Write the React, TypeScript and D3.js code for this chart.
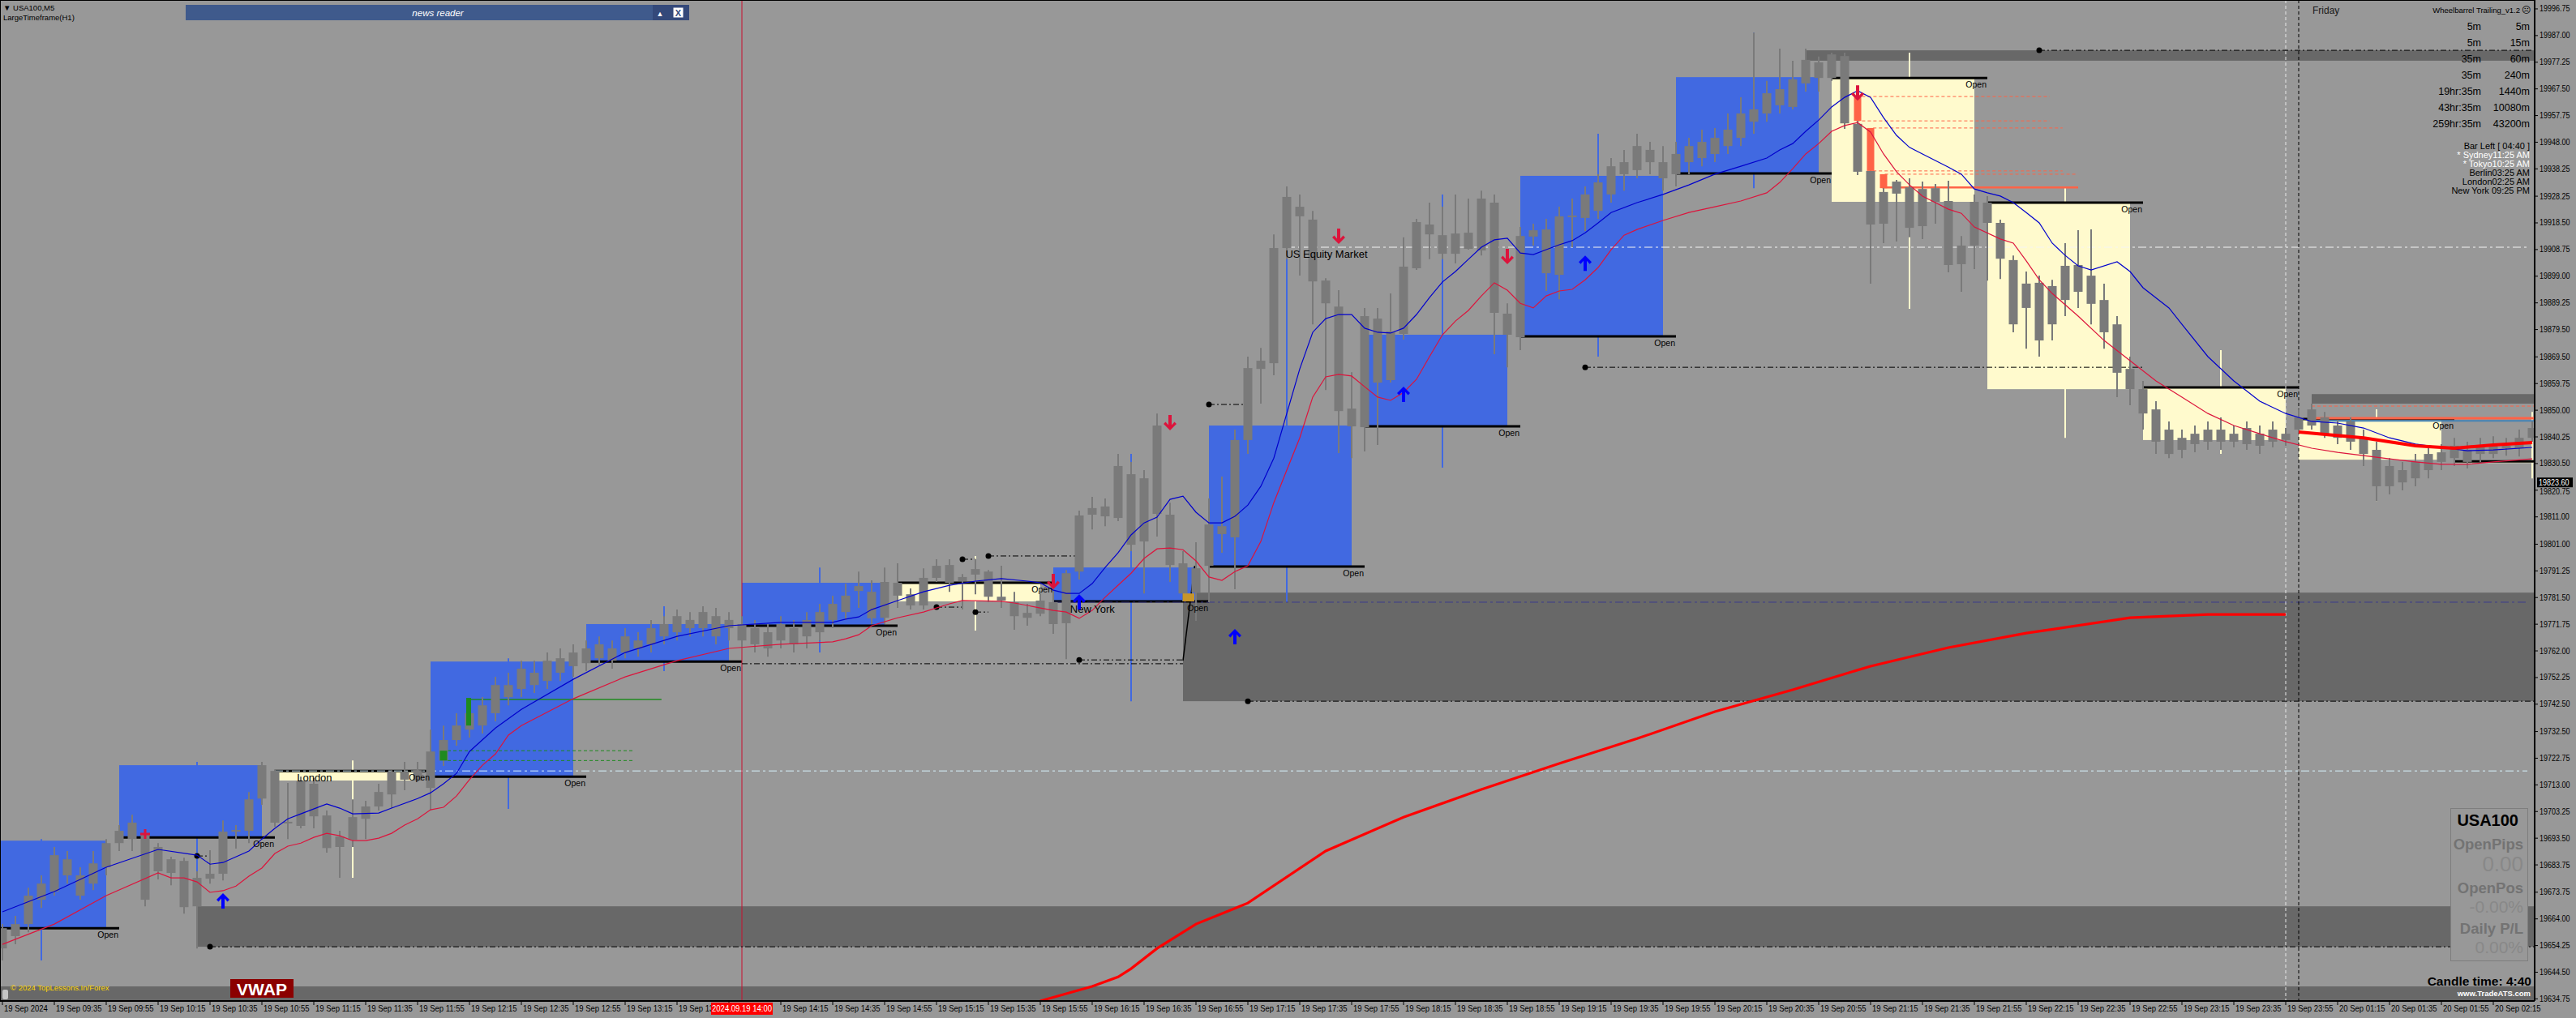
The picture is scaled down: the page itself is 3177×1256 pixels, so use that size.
import React from 'react';
import * as d3 from 'd3';

// ---------------- candles (M5) ----------------
const opens = [19653.2,19662.1,19662.1,19671.0,19674.0,19685.8,19679.9,19676.9,19682.9,19691.7,
19693.2,19694.7,19681.4,19685.8,19685.2,19668.6,19680.5,19680.5,19695.9,19696.2,
19708.0,19718.1,19698.9,19698.0,19713.4,19701.8,19690.3,19692.9,19700.6,19705.1,
19709.5,19717.8,19714.6,19711.9,19721.9,19729.4,19733.2,19742.1,19739.2,19749.5,
19748.1,19754.0,19751.0,19759.3,19756.4,19757.5,19759.3,19762.9,19761.4,19765.8,
19764.4,19767.3,19768.8,19773.3,19770.3,19774.7,19770.3,19771.8,19770.3,19768.8,
19765.8,19770.3,19767.3,19768.8,19773.3,19776.2,19783.9,19783.6,19774.1,19786.9,
19782.7,19778.6,19788.7,19793.4,19789.0,19789.9,19791.0,19781.8,19779.8,19775.9,
19775.6,19779.8,19772.1,19791.0,19811.8,19814.8,19810.6,19826.6,19802.0,19844.4,
19811.8,19794.0,19783.3,19793.1,19807.6,19803.5,19839.1,19865.1,19867.2,19909.3,
19924.4,19919.7,19897.4,19887.9,19850.6,19843.8,19883.5,19861.0,19877.9,19901.9,
19917.9,19914.0,19907.2,19909.0,19908.4,19925.9,19885.3,19876.7,19913.5,19916.1,
19899.5,19920.6,19920.3,19922.9,19928.9,19940.7,19937.8,19945.2,19940.7,19936.3,
19940.7,19942.2,19943.7,19946.6,19949.6,19960.0,19958.5,19961.5,19960.9,19969.5,
19977.2,19971.5,19979.5,19954.7,19937.5,19918.2,19933.6,19931.5,19917.3,19931.2,
19926.5,19903.4,19910.2,19925.9,19918.5,19904.9,19887.4,19896.6,19881.4,19890.3,
19903.1,19899.2,19890.3,19881.4,19865.1,19857.7,19850.3,19842.9,19835.5,19837.6,
19838.5,19842.9,19841.4,19837.6,19841.4,19838.5,19841.4,19842.9,19844.4,19847.4,
19844.4,19838.5,19839.9,19835.5,19822.2,19828.1,19825.1,19828.1,19831.1,19832.5,
19835.5,19834.0,19837.6,19836.1,19836.1,19839.9];
const highs = [19662.1,19665.1,19675.4,19679.9,19690.3,19688.8,19682.9,19688.8,19693.2,19698.3,
19702.1,19696.2,19691.7,19686.7,19686.4,19681.4,19689.1,19700.0,19698.3,19710.4,
19721.4,19718.7,19713.7,19716.0,19715.5,19703.6,19696.2,19707.7,19707.2,19713.4,
19718.4,19721.4,19721.4,19733.2,19734.7,19739.2,19742.1,19745.1,19752.5,19754.0,
19758.4,19758.4,19761.4,19762.9,19764.4,19765.8,19767.3,19765.8,19770.3,19768.8,
19773.3,19774.7,19777.1,19776.2,19778.3,19777.7,19776.2,19774.7,19773.3,19771.8,
19774.7,19773.3,19776.2,19779.2,19782.2,19786.6,19791.0,19787.8,19792.5,19794.0,
19784.8,19792.2,19795.5,19795.5,19790.1,19795.5,19791.6,19793.1,19783.6,19779.2,
19783.0,19787.2,19791.6,19813.3,19818.3,19817.7,19834.0,19831.1,19828.1,19848.8,
19816.2,19798.5,19801.7,19817.7,19825.7,19842.9,19869.6,19872.8,19914.3,19931.8,
19928.9,19922.9,19898.3,19893.9,19863.9,19887.4,19887.4,19892.7,19913.2,19920.0,
19925.9,19924.4,19928.9,19927.4,19930.3,19928.9,19889.1,19917.0,19918.2,19920.0,
19924.4,19927.4,19931.8,19936.3,19942.2,19945.2,19951.1,19948.1,19946.6,19948.1,
19949.6,19952.6,19953.2,19958.5,19964.4,19988.1,19970.4,19982.2,19977.8,19982.2,
19979.3,19980.7,19980.7,19958.5,19939.2,19933.3,19934.2,19934.8,19933.6,19932.7,
19933.9,19913.7,19928.9,19928.3,19919.7,19906.6,19900.7,19899.2,19897.7,19911.1,
19915.8,19916.1,19896.3,19884.4,19869.6,19860.7,19853.3,19845.9,19842.9,19844.4,
19845.9,19847.4,19844.4,19845.9,19844.4,19845.9,19843.5,19850.3,19852.4,19849.4,
19846.5,19847.4,19842.9,19838.5,19832.5,19831.1,19834.0,19837.0,19837.6,19839.9,
19838.5,19839.9,19840.5,19839.9,19842.9,19845.9];
const lows = [19648.8,19654.7,19659.1,19668.0,19672.5,19676.9,19671.0,19674.5,19679.9,19688.8,
19688.8,19668.6,19678.4,19676.3,19665.9,19653.2,19676.9,19678.1,19689.7,19691.7,
19705.7,19697.7,19693.2,19697.1,19697.1,19688.2,19679.0,19690.3,19693.2,19703.6,
19704.5,19711.0,19714.0,19703.6,19719.9,19727.3,19730.3,19731.8,19736.2,19742.1,
19745.1,19746.6,19748.1,19751.0,19752.5,19754.6,19756.9,19755.5,19759.3,19759.9,
19761.4,19764.4,19765.8,19767.3,19767.3,19764.4,19765.8,19762.9,19761.4,19759.9,
19762.9,19761.4,19762.9,19765.8,19770.3,19773.3,19777.7,19771.8,19771.8,19777.7,
19777.1,19777.1,19787.2,19783.6,19777.1,19782.7,19779.8,19777.7,19769.7,19771.2,
19774.7,19768.2,19759.0,19788.1,19806.4,19807.6,19809.4,19798.5,19783.0,19803.8,
19787.2,19780.1,19773.0,19779.8,19797.9,19784.5,19834.0,19852.4,19862.8,19905.2,
19899.2,19881.4,19857.4,19834.3,19832.5,19834.9,19837.3,19860.1,19875.8,19901.3,
19905.2,19905.2,19903.7,19908.7,19906.6,19870.5,19865.7,19872.0,19910.2,19893.6,
19890.6,19909.6,19915.5,19920.0,19925.9,19930.3,19934.8,19936.3,19930.3,19931.8,
19936.3,19939.2,19940.7,19943.7,19946.6,19951.1,19955.5,19958.5,19960.0,19966.5,
19966.5,19970.4,19952.9,19936.0,19896.3,19911.1,19911.7,19913.2,19912.6,19918.2,
19900.4,19893.3,19901.6,19897.4,19898.0,19878.5,19872.5,19869.6,19875.5,19884.4,
19887.4,19881.4,19872.5,19854.8,19851.8,19842.9,19834.0,19832.5,19832.5,19834.6,
19835.5,19835.5,19836.4,19835.5,19834.0,19836.4,19837.0,19841.4,19842.9,19839.9,
19837.6,19835.5,19829.6,19816.8,19819.2,19820.7,19822.2,19825.1,19828.1,19829.6,
19828.7,19831.1,19832.5,19833.4,19833.1,19838.5];
const closes = [19660.6,19657.7,19672.5,19676.9,19687.3,19679.9,19672.5,19684.3,19691.7,19696.2,
19699.2,19671.0,19690.3,19680.8,19668.3,19679.0,19678.7,19695.9,19696.5,19707.7,
19720.2,19699.2,19699.5,19714.3,19701.5,19689.9,19694.1,19701.2,19705.1,19710.4,
19717.8,19714.9,19718.4,19725.2,19729.4,19734.7,19739.2,19734.7,19749.5,19745.1,
19755.5,19749.5,19758.4,19754.0,19761.4,19762.9,19764.4,19758.4,19767.3,19762.9,
19770.3,19771.8,19774.7,19770.3,19776.2,19767.3,19773.3,19765.8,19764.4,19762.9,
19771.8,19764.4,19773.3,19776.2,19779.2,19782.2,19785.7,19773.9,19787.2,19782.2,
19778.6,19788.7,19793.1,19786.9,19787.5,19791.9,19781.8,19780.4,19774.7,19774.1,
19780.4,19771.8,19790.4,19811.5,19814.2,19811.2,19829.6,19800.8,19825.1,19812.1,
19793.4,19783.0,19792.2,19808.2,19804.7,19839.1,19865.4,19868.1,19909.3,19928.0,
19920.9,19897.1,19889.1,19849.7,19844.1,19884.4,19860.1,19878.8,19902.5,19918.8,
19914.3,19907.2,19914.6,19914.9,19927.4,19885.6,19877.6,19913.7,19915.8,19900.1,
19920.9,19921.2,19928.9,19933.3,19939.2,19936.3,19946.6,19940.7,19934.8,19943.7,
19946.6,19948.1,19949.6,19952.6,19958.5,19955.5,19965.9,19967.4,19971.0,19978.1,
19971.5,19980.1,19954.9,19937.2,19917.9,19929.8,19929.2,19916.7,19930.9,19926.2,
19903.1,19910.2,19926.2,19918.5,19905.4,19881.4,19896.3,19875.5,19895.4,19902.8,
19893.3,19888.9,19878.5,19863.7,19857.7,19848.8,19838.5,19834.0,19839.9,19841.4,
19842.9,19838.5,19838.5,19843.5,19837.0,19842.9,19839.1,19847.4,19850.3,19841.4,
19839.9,19845.9,19834.0,19822.2,19829.6,19823.6,19831.1,19834.0,19834.6,19837.0,
19831.1,19837.0,19834.0,19837.0,19839.9,19843.5];

// ---------------- LargeTimeframe(H1) candles ----------------
const h1Start = [-3, 9, 21, 33, 45, 57, 69, 81, 93, 105, 117, 129, 141, 153, 165, 177, 189];
const h1Open = [19660.6,19693.8,19718.1,19716.0,19758.1,19771.2,19786.9,19780.1,19792.8,19844.1,19877.0,19936.6,19971.5,19925.9,19858.3,19846.8,19831.3];
const h1High = [19693.2,19721.4,19721.9,19759.3,19778.3,19792.5,19796.7,19834.0,19931.8,19928.9,19951.1,19988.1,19980.7,19931.5,19872.0,19850.3,19849.4];
const h1Low = [19648.8,19679.3,19679.0,19704.2,19754.6,19761.4,19769.4,19743.6,19779.8,19829.0,19869.6,19931.2,19887.1,19839.9,19834.0,19816.8,19825.1];
const h1Close = [19692.6,19720.2,19714.6,19758.1,19771.8,19786.9,19780.1,19792.5,19844.4,19877.6,19935.7,19971.8,19926.2,19857.7,19839.1,19831.9,19830.7];

// ---------------- moving averages ----------------
const blueMaBars = [0,4,8,12,15,16,17,19,20,21,22,23,25,26,27,29,30,32,33,34,35,36,38,40,44,48,52,56,60,64,65,66,67,69,71,73,75,77,79,80,81,82,83,84,85,86,87,88,89,90,91,92,93,94,95,96,97,98,99,100,101,102,103,104,105,106,107,108,109,110,111,112,113,114,115,116,117,118,119,120,121,122,123,124,126,128,130,132,134,136,137,138,139,140,141,142,143,144,145,146,147,148,150,151,152,153,154,155,156,157,158,159,160,161,163,164,165,167,168,170,172,174,176,178,180,182,184,186,188,190,192,195];
const blueMaVals = [19666.6,19674.0,19682.9,19689.4,19687.3,19684.0,19684.6,19688.8,19693.2,19697.1,19700.6,19702.4,19706.0,19704.5,19702.4,19702.7,19704.5,19708.0,19710.1,19713.4,19717.2,19725.2,19733.8,19740.6,19751.6,19761.4,19767.3,19771.2,19772.4,19772.4,19773.6,19774.4,19777.1,19780.4,19783.6,19786.0,19787.5,19788.4,19787.5,19786.9,19784.2,19783.0,19783.0,19786.6,19792.5,19797.9,19804.4,19808.8,19810.9,19817.4,19818.6,19812.7,19808.8,19808.8,19811.2,19815.3,19822.2,19832.5,19848.8,19865.1,19878.5,19883.5,19885.0,19885.0,19880.0,19878.5,19878.2,19880.0,19885.0,19891.2,19896.9,19900.7,19905.2,19909.6,19912.3,19912.9,19907.5,19906.9,19908.7,19910.5,19912.0,19914.9,19918.5,19922.3,19925.9,19928.9,19932.4,19936.3,19939.2,19942.2,19945.2,19947.5,19952.0,19956.1,19960.9,19964.4,19966.8,19964.4,19957.0,19950.5,19946.1,19943.7,19938.9,19936.3,19930.9,19929.5,19928.3,19925.9,19922.3,19918.5,19911.1,19906.6,19902.8,19901.3,19904.3,19900.7,19894.8,19887.4,19881.4,19869.6,19860.7,19853.3,19848.8,19845.9,19845.3,19843.5,19839.9,19837.6,19836.4,19835.2,19835.5,19836.4];
const redMaBars = [0,4,8,12,13,14,15,16,17,18,19,20,21,22,23,24,25,26,27,28,29,30,31,32,33,34,35,36,37,38,39,40,44,48,52,56,60,64,65,66,67,69,71,73,74,77,78,79,80,81,82,83,84,85,86,87,88,89,90,91,92,93,94,95,96,97,98,99,100,101,102,103,104,105,106,107,108,109,110,111,112,113,114,115,116,117,118,119,120,121,122,123,124,125,126,128,130,132,134,136,137,138,139,140,141,142,143,144,145,146,147,148,150,151,152,154,155,156,157,158,160,162,164,166,168,170,172,174,176,178,180,182,184,186,188,190,192,195];
const redMaVals = [19654.7,19662.1,19672.5,19680.8,19679.0,19679.0,19677.5,19673.7,19674.3,19676.0,19679.6,19682.6,19687.9,19690.6,19691.7,19693.8,19695.3,19694.4,19692.6,19692.6,19693.5,19695.3,19698.3,19700.6,19703.9,19704.8,19708.9,19714.9,19720.2,19724.3,19731.2,19734.7,19744.5,19752.5,19758.4,19762.9,19764.4,19765.3,19766.4,19767.9,19771.2,19774.1,19776.2,19779.2,19780.4,19780.1,19779.5,19778.6,19777.7,19776.8,19776.2,19773.9,19776.8,19781.6,19786.0,19790.4,19795.8,19799.3,19799.6,19799.0,19794.9,19789.0,19787.8,19791.0,19793.1,19802.0,19816.2,19828.1,19839.9,19854.8,19862.2,19863.1,19862.5,19858.6,19854.8,19853.6,19856.5,19861.3,19869.6,19877.6,19882.6,19886.5,19891.8,19896.6,19893.9,19889.1,19887.4,19891.8,19893.6,19894.2,19897.7,19902.2,19908.7,19914.0,19916.1,19919.4,19922.3,19924.4,19926.5,19929.5,19933.3,19938.3,19943.7,19947.5,19952.0,19954.1,19955.2,19951.7,19943.7,19937.2,19932.4,19928.3,19923.5,19922.0,19917.0,19912.6,19911.1,19904.6,19897.7,19892.7,19884.4,19875.5,19868.1,19860.7,19854.8,19848.8,19844.4,19841.4,19838.5,19836.1,19834.6,19833.4,19832.2,19831.1,19830.2,19830.2,19831.1,19832.2];
const vwapBars = [80,84,86,87,89,92,96,102,108,114,120,126,132,138,144,150,156,164,170,176];
const vwapVals = [19634.0,19639.3,19642.8,19645.8,19653.2,19662.1,19669.8,19688.8,19701.2,19711.3,19720.8,19729.9,19739.8,19747.8,19756.4,19763.2,19768.5,19774.1,19775.3,19775.3];
const trailBars = [177,182,186,189,192,195];
const trailVals = [19842.0,19839.9,19837.0,19836.1,19837.3,19838.2];

// ---------------- zones / levels ----------------
const zoneStart = [15, 91, 139, 178];
const zoneTop = [19668.6, 19783.3, 19981.6, 19855.9];
const zoneBottom = [19653.8, 19743.6, 19977.8, 19852.4];

const pivotStart = [16, 96, 157, 15, 72, 74, 75, 76, 83, 122, 93];
const pivotEnd = [196, 196, 196, 16, 74, 75, 76, 83, 91, 165, 96];
const pivotPrice = [19653.8, 19743.6, 19981.6, 19687.0, 19778.0, 19795.5, 19776.2, 19796.7, 19758.7, 19865.7, 19852.1];

const sessionNames = ['US Equity Market', 'London', 'New York'];
const sessionStart = [99, 21, 81];
const sessionLabelBar = [98.9, 22.7, 82.3];
const sessionPrice = [19909.6, 19718.1, 19779.8];
const sessionColor = ['#f4f4f4', '#d8f4ff', '#3c3c8c'];

const redArrowBars = [81, 90, 103, 116, 143];
const redArrowTips = [19784.5, 19842.6, 19910.8, 19903.4, 19963.2];
const blueArrowBars = [17, 83, 95, 108, 122];
const blueArrowTips = [19673.4, 19782.7, 19770.0, 19858.6, 19906.6];

const salmonBoxBars = [143, 144, 145];
const salmonBoxTop = [19964.4, 19953.2, 19936.3];
const salmonBoxBottom = [19955.8, 19937.5, 19931.2];
const salmonDashStart = [142.9, 142.9, 144.2, 144.2, 145.1, 178];
const salmonDashEnd = [157.8, 157.8, 158.8, 158.8, 159.8, 195.2];
const salmonDashPrice = [19964.7, 19955.8, 19953.2, 19937.5, 19936.3, 19851.5];

// ---------------- axes ----------------
const priceTicks = [19996.75,19987.00,19977.25,19967.50,19957.75,19948.00,19938.25,19928.25,19918.50,19908.75,19899.00,19889.25,19879.50,19869.50,19859.75,19850.00,19840.25,19830.50,19820.75,19811.00,19801.00,19791.25,19781.50,19771.75,19762.00,19752.25,19742.50,19732.50,19722.75,19713.00,19703.25,19693.50,19683.75,19673.75,19664.00,19654.25,19644.50,19634.75];
const timeTickLabels = ['19 Sep 2024','19 Sep 09:35','19 Sep 09:55','19 Sep 10:15','19 Sep 10:35','19 Sep 10:55','19 Sep 11:15','19 Sep 11:35','19 Sep 11:55','19 Sep 12:15','19 Sep 12:35','19 Sep 12:55','19 Sep 13:15','19 Sep 13:35','19 Sep 13:55','19 Sep 14:15','19 Sep 14:35','19 Sep 14:55','19 Sep 15:15','19 Sep 15:35','19 Sep 15:55','19 Sep 16:15','19 Sep 16:35','19 Sep 16:55','19 Sep 17:15','19 Sep 17:35','19 Sep 17:55','19 Sep 18:15','19 Sep 18:35','19 Sep 18:55','19 Sep 19:15','19 Sep 19:35','19 Sep 19:55','19 Sep 20:15','19 Sep 20:35','19 Sep 20:55','19 Sep 21:15','19 Sep 21:35','19 Sep 21:55','19 Sep 22:15','19 Sep 22:35','19 Sep 22:55','19 Sep 23:15','19 Sep 23:35','19 Sep 23:55','20 Sep 01:15','20 Sep 01:35','20 Sep 01:55','20 Sep 02:15'];
const timeTickBars = timeTickLabels.map((_, i) => i * 4);
const highlightBar = 57;
const highlightLabel = '2024.09.19 14:00';

const tfLeft = ['5m', '5m', '35m', '35m', '19hr:35m', '43hr:35m', '259hr:35m'];
const tfRight = ['5m', '15m', '60m', '240m', '1440m', '10080m', '43200m'];
const clockLines = ['* Sydney11:25 AM', '* Tokyo10:25 AM', 'Berlin03:25 AM', 'London02:25 AM', 'New York 09:25 PM'];
const clockColors = ['#ffffff', '#ffffff', '#000000', '#000000', '#000000'];

const BG = '#989898';
const CANDLE = '#7a7a7a';
const ZONE = '#686868';

const T = ({ x, y, s = 1, anchor = 'start', size = 11, fill = '#000', weight = 'normal', italic = false, children }: any) => (
  <text transform={`translate(${x},${y}) scale(${s},1)`} textAnchor={anchor} fontSize={size} fill={fill}
    fontWeight={weight} fontStyle={italic ? 'italic' : 'normal'}>{children}</text>
);

const downArrow = 'M0,0 L-8,-8 L-5.5,-10.5 L-2,-6.5 L-2,-19 L2,-19 L2,-6.5 L5.5,-10.5 L8,-8 Z';
const upArrow = 'M0,0 L-8,8 L-5.5,10.5 L-2,6.5 L-2,19 L2,19 L2,6.5 L5.5,10.5 L8,8 Z';

export default function App() {
  const x = d3.scaleLinear().domain([0, 195]).range([3, 3123]);
  const y = d3.scaleLinear().domain([19634.75, 20000]).range([1232.4, 0]);
  const PR = 3126, PB = 1235;
  const hlX = x(highlightBar);
  const hlL = hlX - 38, hlR = hlX + 38;

  const blueLine = d3.line<number>().x((b) => x(b)).y((_, i) => y(blueMaVals[i]))(blueMaBars) || '';
  const redLine = d3.line<number>().x((b) => x(b)).y((_, i) => y(redMaVals[i]))(redMaBars) || '';
  const vwapLine = d3.line<number>().x((b) => x(b)).y((_, i) => y(vwapVals[i]))(vwapBars) || '';
  const trailLine = d3.line<number>().x((b) => x(b)).y((_, i) => y(trailVals[i]))(trailBars) || '';

  return (
    <div style={{ position: 'absolute', left: 0, top: 0 }}>
      <style>{`body{margin:0;background:${BG}}`}</style>
      <svg width={3177} height={1256} style={{ display: 'block' }} fontFamily="'Liberation Sans', Arial, sans-serif">
        <defs>
          <clipPath id="plot"><rect x={0} y={0} width={PR} height={PB} /></clipPath>
          <clipPath id="axisLeftOfHl"><rect x={0} y={PB} width={hlL} height={30} /></clipPath>
        </defs>
        <rect width={3177} height={1256} fill={BG} />
        <g clipPath="url(#plot)">
          {/* zones */}
          {zoneStart.map((s, i) => (
            <rect key={'z' + i} x={x(s)} y={y(zoneTop[i])} width={PR - x(s)} height={y(zoneBottom[i]) - y(zoneTop[i])} fill={ZONE} />
          ))}
          <rect x={0} y={1217} width={PR} height={PB - 1217} fill={ZONE} />
          {/* H1 wicks */}
          {h1Start.map((s, i) => (
            <line key={'hw' + i} x1={x(s + 6)} x2={x(s + 6)} y1={y(h1High[i])} y2={y(h1Low[i])}
              stroke={h1Close[i] >= h1Open[i] ? '#4169e1' : '#fffacd'} strokeWidth={2} />
          ))}
          {/* H1 bodies */}
          {h1Start.map((s, i) => {
            const top = y(Math.max(h1Open[i], h1Close[i]));
            const bot = y(Math.min(h1Open[i], h1Close[i]));
            return <rect key={'hb' + i} x={x(s)} y={top} width={x(s + 11) - x(s)} height={Math.max(1, bot - top)}
              fill={h1Close[i] >= h1Open[i] ? '#4169e1' : '#fffacd'} />;
          })}
          {/* H1 open lines */}
          {h1Start.map((s, i) => (
            <line key={'ho' + i} x1={x(s)} x2={x(s + 12)} y1={y(h1Open[i])} y2={y(h1Open[i])} stroke="#000" strokeWidth={3} />
          ))}
          {/* session lines */}
          {sessionNames.map((n, i) => (
            <line key={'s' + i} x1={x(sessionStart[i])} x2={3117} y1={y(sessionPrice[i])} y2={y(sessionPrice[i])}
              stroke={sessionColor[i]} strokeWidth={1} strokeDasharray="10,4,3,4" />
          ))}
          {/* day separators + highlighted time */}
          <line x1={x(176)} x2={x(176)} y1={0} y2={PB} stroke="#e8e8e8" strokeDasharray="4,3" />
          <line x1={x(177)} x2={x(177)} y1={0} y2={PB} stroke="#000" strokeDasharray="4,3" />
          <line x1={hlX} x2={hlX} y1={0} y2={PB} stroke="#c8102e" strokeWidth={1} />
          {/* pivot lines */}
          {pivotStart.map((s, i) => (
            <g key={'p' + i}>
              <line x1={x(s)} x2={x(pivotEnd[i])} y1={y(pivotPrice[i])} y2={y(pivotPrice[i])} stroke="#000" strokeDasharray="7,3,2,3" />
              <circle cx={x(s)} cy={y(pivotPrice[i])} r={3.5} fill="#000" />
            </g>
          ))}
          <line x1={x(57)} x2={x(91)} y1={y(19757.3)} y2={y(19757.3)} stroke="#000" strokeDasharray="7,3,2,3" />
          <line x1={x(91)} x2={x(91.9)} y1={y(19758.4)} y2={y(19793.1)} stroke="#000" strokeWidth={1.5} />
          {/* salmon levels */}
          {salmonDashStart.map((s, i) => (
            <line key={'sd' + i} x1={x(s)} x2={x(salmonDashEnd[i])} y1={y(salmonDashPrice[i])} y2={y(salmonDashPrice[i])}
              stroke="#ff6347" strokeDasharray="4,3" />
          ))}
          <line x1={x(144.9)} x2={x(160)} y1={y(19931.5)} y2={y(19931.5)} stroke="#ff6347" strokeWidth={2.5} />
          <line x1={x(178)} x2={x(195.2)} y1={y(19847.1)} y2={y(19847.1)} stroke="#ff6347" strokeWidth={3} />
          <line x1={x(178)} x2={x(195.2)} y1={y(19846.1)} y2={y(19846.1)} stroke="#4682b4" strokeWidth={2} />
          {/* green markers */}
          <line x1={x(34) + 5} x2={x(48.6)} y1={y(19725.5)} y2={y(19725.5)} stroke="#1f8a1f" strokeDasharray="4,3" />
          <line x1={x(34) + 5} x2={x(48.6)} y1={y(19721.9)} y2={y(19721.9)} stroke="#1f8a1f" strokeDasharray="4,3" />
          <line x1={x(36) + 2} x2={x(50.8)} y1={y(19744.2)} y2={y(19744.2)} stroke="#1f8a1f" strokeWidth={1.5} />
          {/* candles */}
          {opens.map((o, i) => {
            const c = closes[i];
            const top = y(Math.max(o, c));
            const bot = y(Math.min(o, c));
            return (
              <g key={'c' + i}>
                <line x1={x(i)} x2={x(i)} y1={y(highs[i])} y2={y(lows[i])} stroke={CANDLE} strokeWidth={2} />
                <rect x={x(i) - 5.5} y={top} width={11} height={Math.max(2, bot - top)} fill={CANDLE} />
              </g>
            );
          })}
          {/* special coloured boxes */}
          {salmonBoxBars.map((b, i) => (
            <rect key={'sb' + i} x={x(b) - 4.5} y={y(salmonBoxTop[i])} width={9} height={y(salmonBoxBottom[i]) - y(salmonBoxTop[i])} fill="#ff6347" />
          ))}
          <rect x={x(34) - 4.5} y={y(19725.5)} width={9} height={y(19721.9) - y(19725.5)} fill="#1f8a1f" />
          <rect x={x(36) - 4} y={y(19744.8)} width={6} height={y(19734.7) - y(19744.8)} fill="#1f8a1f" />
          <rect x={x(91)} y={y(19783.0)} width={14} height={y(19780.1) - y(19783.0)} fill="#c8962a" />
          {/* MAs */}
          <path d={redLine} fill="none" stroke="#dc143c" strokeWidth={1.2} />
          <path d={blueLine} fill="none" stroke="#0000cd" strokeWidth={1.2} />
          <path d={trailLine} fill="none" stroke="#ff0000" strokeWidth={4} />
          <path d={vwapLine} fill="none" stroke="#ff0000" strokeWidth={3.2} />
          {/* labels above candles */}
          {h1Start.filter((s) => x(s + 12) < PR).map((s) => {
            const i = h1Start.indexOf(s);
            return <T key={'hl' + i} x={x(s + 12) - 1} y={y(h1Open[i]) + 12} anchor="end" size={10.5}>Open</T>;
          })}
          {sessionNames.map((n, i) => (
            <T key={'sl' + i} x={x(sessionLabelBar[i])} y={y(sessionPrice[i]) + 13} size={13}>{n}</T>
          ))}
          {/* arrows */}
          {redArrowBars.map((b, i) => (
            <path key={'ra' + i} d={downArrow} transform={`translate(${x(b)},${y(redArrowTips[i])})`} fill="#dc143c" />
          ))}
          {blueArrowBars.map((b, i) => (
            <path key={'ba' + i} d={upArrow} transform={`translate(${x(b)},${y(blueArrowTips[i])})`} fill="#0000ff" />
          ))}
          <path d="M-6,0 L6,0 M0,-6 L0,6" transform={`translate(${x(11)},${y(19695.0)})`} stroke="#dc143c" strokeWidth={3} />
        </g>

        {/* frame */}
        <line x1={0.5} x2={0.5} y1={0} y2={PB} stroke="#000" />
        <line x1={0} x2={PR} y1={0.5} y2={0.5} stroke="#000" />
        <line x1={PR} x2={PR} y1={0} y2={PB} stroke="#000" strokeWidth={2} />
        <line x1={0} x2={PR} y1={PB} y2={PB} stroke="#000" strokeWidth={2} />

        {/* price axis */}
        {priceTicks.map((p, i) => (
          <g key={'pt' + i}>
            <line x1={PR} x2={PR + 4} y1={y(p)} y2={y(p)} stroke="#000" />
            {Math.abs(y(p) - y(19823.6)) > 10 &&
              <T x={PR + 6} y={y(p) + 3.5} s={0.9} size={10}>{p.toFixed(2)}</T>}
          </g>
        ))}
        <T x={PR + 6} y={y(19820.75) + 5.5} s={0.9} size={10}>19820.75</T>
        <rect x={3129} y={y(19823.6) - 6} width={44} height={12} fill="#000" />
        <T x={3131} y={y(19823.6) + 3.5} s={0.9} size={10} fill="#fff">19823.60</T>

        {/* time axis */}
        {timeTickBars.map((b, i) => {
          const tx = x(b);
          if (tx + 58 > hlL && tx < hlR) {
            // partly hidden behind the highlighted-time label, as in the original
            if (tx >= hlL) return <line key={'tt' + i} x1={tx} x2={tx} y1={PB} y2={PB + 5} stroke="#000" />;
            return (
              <g key={'tt' + i}>
                <line x1={tx} x2={tx} y1={PB} y2={PB + 5} stroke="#000" />
                <g clipPath="url(#axisLeftOfHl)"><T x={tx + 2} y={1248} s={0.95} size={10}>{timeTickLabels[i]}</T></g>
              </g>
            );
          }
          return (
            <g key={'tt' + i}>
              <line x1={tx} x2={tx} y1={PB} y2={PB + 5} stroke="#000" />
              <T x={tx + 2} y={1248} s={0.95} size={10}>{timeTickLabels[i]}</T>
            </g>
          );
        })}
        <rect x={hlL} y={1237} width={hlR - hlL} height={15} fill="#ff0000" />
        <T x={hlX} y={1248} anchor="middle" s={0.95} size={10} fill="#fff">{highlightLabel}</T>

        {/* top-left titles */}
        <T x={4} y={13} size={9.5}>▼ USA100,M5</T>
        <T x={4} y={25} size={9.5}>LargeTimeframe(H1)</T>

        {/* news reader */}
        <rect x={229} y={6} width={621} height={19} fill="#3f5a8c" />
        <rect x={805} y={6} width={45} height={19} fill="#34497a" />
        <T x={540} y={19.5} anchor="middle" size={11.5} fill="#fff" italic>news reader</T>
        <T x={814} y={19.5} anchor="middle" size={9} fill="#fff">▲</T>
        <rect x={830} y={9} width={13} height={13} fill="#fff" stroke="#34497a" />
        <T x={836.5} y={19.5} anchor="middle" size={11} fill="#34497a" weight="bold">X</T>

        {/* info panel */}
        <T x={2852} y={17} size={12} fill="#1a1a1a">Friday</T>
        <T x={3108} y={15.5} anchor="end" size={9.5}>Wheelbarrel Trailing_v1.2</T>
        <T x={3115} y={16} anchor="middle" size={11}>☹</T>
        {tfLeft.map((t, i) => (
          <g key={'tf' + i}>
            <T x={3060} y={36.5 + i * 20} anchor="end" size={12.5}>{t}</T>
            <T x={3120} y={36.5 + i * 20} anchor="end" size={12.5}>{tfRight[i]}</T>
          </g>
        ))}
        <T x={3120} y={184} anchor="end" size={11}>Bar Left  [ 04:40 ]</T>
        {clockLines.map((t, i) => (
          <T key={'cl' + i} x={3120} y={195 + i * 11} anchor="end" size={11} fill={clockColors[i]}>{t}</T>
        ))}

        {/* account panel */}
        <rect x={3022.5} y={997.5} width={95} height={188} fill={BG} stroke="#7e7e7e" />
        <T x={3106} y={1019} anchor="end" size={20} weight="bold">USA100</T>
        <T x={3112} y={1048} anchor="end" size={18.5} weight="bold" fill="#737373">OpenPips</T>
        <T x={3112} y={1075} anchor="end" size={26} fill="#888888">0.00</T>
        <T x={3112} y={1102} anchor="end" size={18.5} weight="bold" fill="#737373">OpenPos</T>
        <T x={3112} y={1126} anchor="end" size={21} fill="#888888">-0.00%</T>
        <T x={3112} y={1152} anchor="end" size={18.5} weight="bold" fill="#737373">Daily P/L</T>
        <T x={3112} y={1176} anchor="end" size={21} fill="#888888">0.00%</T>
        <T x={3122} y={1216} anchor="end" size={15.5} weight="bold">Candle time:  4:40</T>
        <T x={3121} y={1229} anchor="end" size={9.5} weight="bold" fill="#fff">www.TradeATS.com</T>

        {/* bottom-left labels */}
        <rect x={3} y={1221} width={7} height={12} rx={2} fill="#c4c4c4" />
        <T x={13} y={1222} size={9.5} fill="#ffd700">© 2024 TopLessons.In/Forex</T>
        <rect x={284} y={1208} width={78} height={23} fill="#8b0000" />
        <T x={323} y={1227.5} anchor="middle" size={21} weight="bold" fill="#fff">VWAP</T>
      </svg>
    </div>
  );
}
